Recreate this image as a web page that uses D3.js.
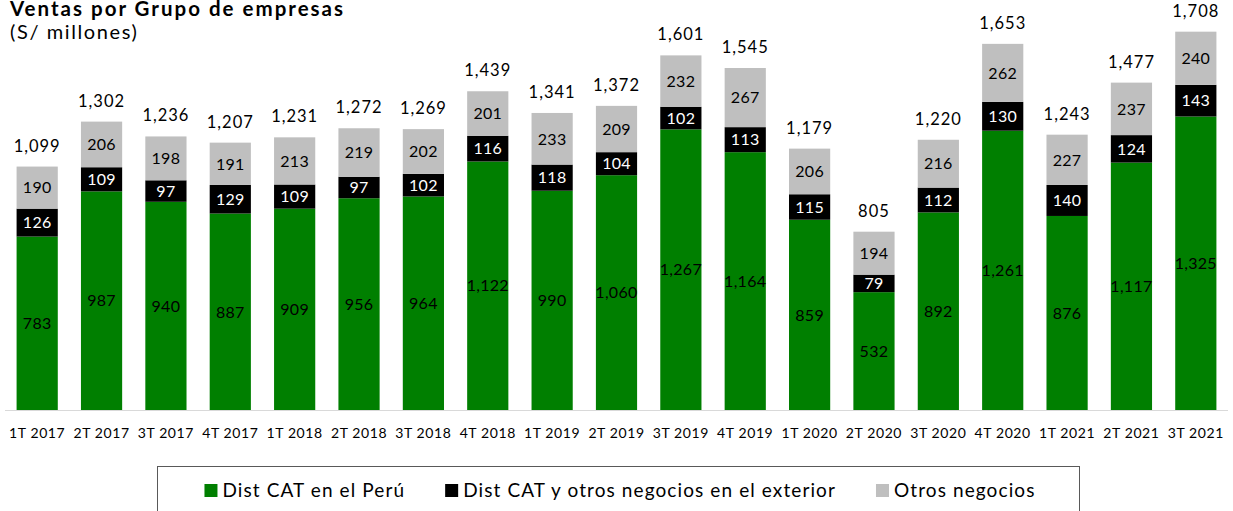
<!DOCTYPE html>
<html>
<head>
<meta charset="utf-8">
<script src="https://cdn.jsdelivr.net/npm/d3@7"></script>
<style>
  body { margin: 0; background: #fff; }
  svg { font-family: Lato, "Open Sans", sans-serif; }
</style>
</head>
<body>
<svg id="chart"></svg>
<script>
const quarters = ["1T 2017", "2T 2017", "3T 2017", "4T 2017", "1T 2018", "2T 2018", "3T 2018", "4T 2018",
    "1T 2019", "2T 2019", "3T 2019", "4T 2019", "1T 2020", "2T 2020", "3T 2020", "4T 2020",
    "1T 2021", "2T 2021", "3T 2021"];
const catPeru = [783, 987, 940, 887, 909, 956, 964, 1122, 990, 1060, 1267, 1164, 859, 532, 892, 1261, 876, 1117, 1325];
const catExterior = [126, 109, 97, 129, 109, 97, 102, 116, 118, 104, 102, 113, 115, 79, 112, 130, 140, 124, 143];
const otros = [190, 206, 198, 191, 213, 219, 202, 201, 233, 209, 232, 267, 206, 194, 216, 262, 227, 237, 240];
const totals = [1099, 1302, 1236, 1207, 1231, 1272, 1269, 1439, 1341, 1372, 1601, 1545, 1179, 805, 1220, 1653, 1243, 1477, 1708];

const seriesNames = ["Dist CAT en el Perú", "Dist CAT y otros negocios en el exterior", "Otros negocios"];
const seriesColors = ["#007f00", "#000000", "#bfbfbf"];
const labelColors = ["#000000", "#ffffff", "#000000"];

const width = 1233, height = 511;
const svg = d3.select("#chart").attr("width", width).attr("height", height);

const rows = quarters.map((q, i) => ({ q, s0: catPeru[i], s1: catExterior[i], s2: otros[i], total: totals[i] }));
const keys = ["s0", "s1", "s2"];
const stacked = d3.stack().keys(keys)(rows);

const x = d3.scaleBand().domain(quarters).range([5, 1228]).paddingInner(0.36).paddingOuter(0.18);
const y = d3.scaleLinear().domain([0, 1800]).range([410, 11.3]);
const fmt = d3.format(",");

// title
svg.append("text").attr("x", 10).attr("y", 16)
    .attr("font-weight", "bold").attr("font-size", 20.5).attr("letter-spacing", 2).attr("fill", "#000")
    .text("Ventas por Grupo de empresas");
svg.append("text").attr("x", 10).attr("y", 39)
    .attr("font-size", 20).attr("letter-spacing", 1.6).attr("fill", "#000")
    .text("(S/ millones)");

// axis line
svg.append("line").attr("x1", 5).attr("x2", 1228)
    .attr("y1", y(0) + 0.5).attr("y2", y(0) + 0.5)
    .attr("stroke", "#d9d9d9").attr("stroke-width", 1);

// bars
const layers = svg.append("g").selectAll("g")
    .data(stacked)
    .enter().append("g")
    .attr("fill", (d, i) => seriesColors[i]);

layers.selectAll("rect")
    .data(d => d)
    .enter().append("rect")
    .attr("x", d => x(d.data.q))
    .attr("width", x.bandwidth())
    .attr("y", d => y(d[1]))
    .attr("height", d => y(d[0]) - y(d[1]));

// segment labels
stacked.forEach((layer, li) => {
    svg.append("g").selectAll("text")
        .data(layer)
        .enter().append("text")
        .attr("x", d => x(d.data.q) + x.bandwidth() / 2)
        .attr("y", d => (y(d[0]) + y(d[1])) / 2)
        .attr("dy", "0.36em")
        .attr("text-anchor", "middle")
        .attr("font-size", 16)
        .attr("letter-spacing", 0.3)
        .attr("fill", labelColors[li])
        .text(d => fmt(d.data[layer.key]));
});

// totals
svg.append("g").selectAll("text")
    .data(rows)
    .enter().append("text")
    .attr("x", d => x(d.q) + x.bandwidth() / 2)
    .attr("y", d => y(d.s0 + d.s1 + d.s2) - 15)
    .attr("text-anchor", "middle")
    .attr("font-size", 16.5)
    .attr("letter-spacing", 1)
    .attr("fill", "#000")
    .text(d => fmt(d.total));

// category labels
svg.append("g").selectAll("text")
    .data(quarters)
    .enter().append("text")
    .attr("x", d => x(d) + x.bandwidth() / 2)
    .attr("y", 438)
    .attr("text-anchor", "middle")
    .attr("font-size", 14)
    .attr("letter-spacing", 0.6)
    .attr("fill", "#000")
    .text(d => d);

// legend
svg.append("rect").attr("x", 157.5).attr("y", 466.5).attr("width", 922).attr("height", 60)
    .attr("fill", "none").attr("stroke", "#595959").attr("stroke-width", 1);

const legend = svg.append("g");
const items = legend.selectAll("g")
    .data(seriesNames)
    .enter().append("g");
items.append("rect").attr("width", 13).attr("height", 13).attr("y", -13)
    .attr("fill", (d, i) => seriesColors[i]);
items.append("text").attr("x", 18).attr("y", 0)
    .attr("font-size", 19).attr("letter-spacing", 1.1).attr("fill", "#000")
    .text(d => d);

let lx = 0;
items.each(function() {
    const g = d3.select(this);
    g.attr("transform", `translate(${lx},0)`);
    lx += 18 + g.select("text").node().getComputedTextLength() + 40;
});
const legendWidth = lx - 40;
legend.attr("transform", `translate(${620 - legendWidth / 2},497)`);
</script>
</body>
</html>
